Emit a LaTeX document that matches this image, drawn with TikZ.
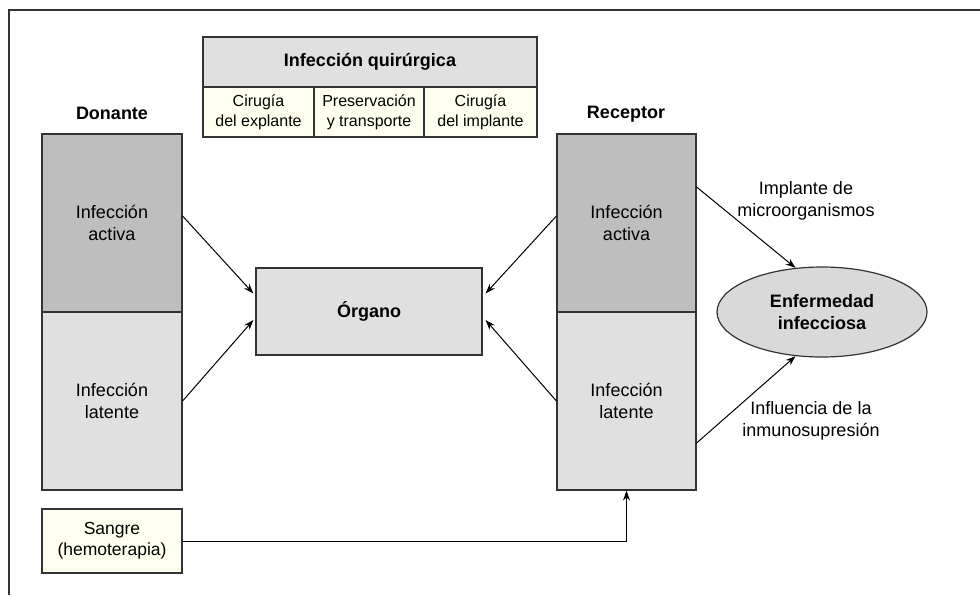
\documentclass[tikz,border=0pt]{standalone}
\usepackage{fontspec}
\setmainfont{Liberation Sans}
\usetikzlibrary{arrows.meta,shapes.geometric}
\definecolor{darkfill}{HTML}{BEBEBE}
\definecolor{lightfill}{HTML}{E0E0E0}
\definecolor{ellfill}{HTML}{D9D9D9}
\definecolor{cream}{HTML}{FFFFF0}
\definecolor{edge}{HTML}{333333}
\tikzset{
  box/.style={draw=edge, line width=1.2pt, inner sep=0pt, align=center,
    font=\fontsize{18}{21.7}\selectfont},
  cell/.style={box, fill=cream, minimum height=50pt,
    font=\fontsize{16}{20}\selectfont},
  lab/.style={align=center, inner sep=0pt, font=\fontsize{18}{21.7}\selectfont},
  conn/.style={line width=1pt, -{Stealth[length=10pt,width=7pt]}},
}
\begin{document}
\begin{tikzpicture}[x=1pt,y=-1pt]
\useasboundingbox (0,0) rectangle (980,595);
% frame
\draw[edge, line width=1.2pt] (9,595) -- (9,10) -- (980,10);
% table
\node[box, fill=lightfill, minimum width=334pt, minimum height=50pt,
  font=\bfseries\fontsize{18}{21.7}\selectfont] (hdr) at (370,62) {Infección quirúrgica};
\node[cell, minimum width=111pt] (c1) at (258.5,112) {Cirugía\\del explante};
\node[cell, minimum width=110pt] (c2) at (369,112) {Preservación\\y transporte};
\node[cell, minimum width=113pt] (c3) at (480.5,112) {Cirugía\\del implante};
% titles
\node[lab, font=\bfseries\fontsize{18}{21.7}\selectfont] (don) at (112,113) {Donante};
\node[lab, font=\bfseries\fontsize{18}{21.7}\selectfont] (rec) at (626,114) {Receptor};
% donor
\node[box, fill=darkfill, minimum width=140pt, minimum height=178pt] (da) at (112,223) {Infección\\activa};
\node[box, fill=lightfill, minimum width=140pt, minimum height=178pt] (dl) at (112,401) {Infección\\latente};
% receptor
\node[box, fill=darkfill, minimum width=139pt, minimum height=178pt] (ra) at (626.5,223) {Infección\\activa};
\node[box, fill=lightfill, minimum width=139pt, minimum height=178pt] (rl) at (626.5,401) {Infección\\latente};
% organ
\node[box, fill=lightfill, minimum width=226pt, minimum height=87pt,
  font=\bfseries\fontsize{18}{21.7}\selectfont] (org) at (369,311.5) {Órgano};
% blood
\node[box, fill=cream, minimum width=140pt, minimum height=64pt,
  font=\fontsize{17.5}{21}\selectfont] (sg) at (112,541) {Sangre\\(hemoterapia)};
% disease
\node[box, ellipse, fill=ellfill, minimum width=210pt, minimum height=90pt,
  font=\bfseries\fontsize{18}{21.7}\selectfont] (ell) at (822,312) {Enfermedad\\infecciosa};
% labels
\node[lab] (limp) at (806,201) {Implante de\\microorganismos};
\node[lab] (linf) at (811,421) {Influencia de la\\inmunosupresión};
% connectors
\draw[conn] ([yshift=7pt]da.east) -- ([xshift=-2pt,yshift=18pt]org.west);
\draw[conn] (dl.east) -- ([xshift=-2pt,yshift=-8.5pt]org.west);
\draw[conn] ([yshift=7pt]ra.west) -- ([xshift=3pt,yshift=18pt]org.east);
\draw[conn] (rl.west) -- ([xshift=3pt,yshift=-8.5pt]org.east);
\draw[conn] ([yshift=36pt]ra.east) -- (ell.121);
\draw[conn] ([yshift=-42pt]rl.east) -- (ell.239);
\draw[conn] (sg.east) -| (rl.south);
\end{tikzpicture}
\end{document}
